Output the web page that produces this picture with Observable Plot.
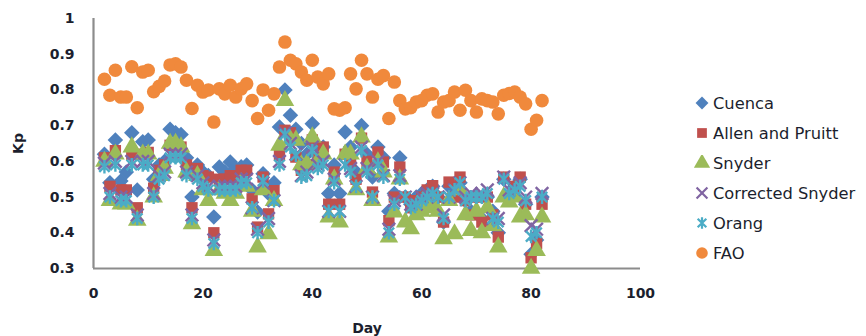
<!DOCTYPE html>
<html>
<head>
<meta charset="utf-8">
<script src="https://cdn.jsdelivr.net/npm/d3@7"></script>
<script src="https://cdn.jsdelivr.net/npm/@observablehq/plot@0.6"></script>
<style>
  html, body { margin: 0; padding: 0; background: #ffffff; }
  #wrap { position: relative; width: 866px; height: 336px; overflow: hidden; }
  #wrap svg.plot text { font-family: "DejaVu Sans", sans-serif; font-weight: bold; }
  #legend { position: absolute; left: 694px; top: 88px; font-family: "DejaVu Sans", sans-serif; font-size: 16.3px; color: #1c1f2e; }
  #legend .row { height: 30px; display: flex; align-items: center; white-space: nowrap; }
  #legend svg { margin-right: 3px; }
</style>
</head>
<body>
<div id="wrap"></div>
<script>
// ---- data ----
const days = [2,3,4,5,6,7,8,9,10,11,12,13,14,15,16,17,18,19,20,21,22,23,24,25,26,27,28,29,30,31,32,33,34,35,36,37,38,39,40,41,42,43,44,45,46,47,48,49,50,51,52,53,54,55,56,57,58,59,60,61,62,63,64,65,66,67,68,69,70,71,72,73,74,75,76,77,78,79,80,81,82];

const cuenca = [0.62,0.54,0.66,0.545,0.57,0.68,0.52,0.655,0.66,0.55,0.59,0.60,0.69,0.68,0.675,0.61,0.50,0.59,0.57,0.56,0.444,0.584,0.57,0.598,0.58,0.585,0.59,0.52,0.458,0.565,0.51,0.54,0.696,0.80,0.729,0.69,0.65,0.62,0.705,0.64,0.64,0.51,0.59,0.51,0.682,0.64,0.57,0.70,0.62,0.556,0.64,0.61,0.46,0.51,0.61,0.50,0.48,0.50,0.51,0.52,0.53,0.50,0.43,0.53,0.51,0.54,0.49,0.46,0.50,0.44,0.50,0.46,0.40,0.55,0.50,0.53,0.55,0.48,0.34,0.38,0.50];

const allenPruitt = [0.61,0.53,0.63,0.52,0.52,0.62,0.47,0.62,0.625,0.525,0.575,0.59,0.645,0.64,0.64,0.59,0.47,0.58,0.56,0.556,0.40,0.55,0.55,0.56,0.55,0.575,0.575,0.495,0.416,0.556,0.453,0.518,0.617,0.687,0.68,0.612,0.575,0.59,0.66,0.61,0.64,0.48,0.57,0.48,0.62,0.60,0.55,0.665,0.60,0.514,0.626,0.598,0.434,0.50,0.584,0.50,0.47,0.49,0.50,0.52,0.532,0.50,0.43,0.542,0.50,0.556,0.49,0.45,0.50,0.43,0.50,0.45,0.388,0.556,0.50,0.53,0.556,0.48,0.33,0.37,0.48];

const snyder = [0.60,0.49,0.62,0.48,0.48,0.64,0.435,0.62,0.62,0.50,0.56,0.58,0.65,0.65,0.64,0.57,0.425,0.56,0.52,0.49,0.35,0.52,0.51,0.49,0.51,0.54,0.53,0.46,0.36,0.52,0.397,0.49,0.645,0.77,0.66,0.659,0.59,0.593,0.668,0.60,0.62,0.444,0.55,0.43,0.62,0.62,0.52,0.668,0.58,0.49,0.598,0.57,0.388,0.458,0.55,0.43,0.411,0.45,0.46,0.47,0.48,0.46,0.383,0.49,0.397,0.52,0.45,0.406,0.46,0.40,0.47,0.42,0.36,0.50,0.486,0.50,0.444,0.45,0.30,0.35,0.444];

const correctedSnyder = [0.595,0.51,0.60,0.50,0.50,0.60,0.45,0.60,0.60,0.51,0.56,0.57,0.62,0.62,0.62,0.57,0.45,0.56,0.54,0.53,0.38,0.53,0.53,0.53,0.53,0.55,0.55,0.47,0.41,0.54,0.44,0.49,0.60,0.68,0.65,0.62,0.56,0.57,0.64,0.59,0.60,0.46,0.55,0.46,0.59,0.58,0.53,0.64,0.58,0.50,0.60,0.56,0.41,0.49,0.56,0.50,0.48,0.48,0.50,0.51,0.51,0.50,0.45,0.50,0.52,0.54,0.50,0.51,0.50,0.51,0.52,0.44,0.44,0.556,0.52,0.52,0.54,0.50,0.42,0.41,0.51];

const orang = [0.585,0.50,0.59,0.49,0.49,0.59,0.44,0.59,0.59,0.50,0.55,0.56,0.61,0.61,0.61,0.56,0.44,0.55,0.53,0.52,0.37,0.52,0.52,0.52,0.52,0.54,0.54,0.47,0.40,0.545,0.43,0.49,0.59,0.675,0.64,0.617,0.556,0.56,0.63,0.58,0.59,0.46,0.54,0.46,0.59,0.57,0.53,0.63,0.57,0.50,0.59,0.556,0.40,0.48,0.55,0.50,0.47,0.48,0.49,0.50,0.51,0.50,0.44,0.50,0.52,0.54,0.49,0.50,0.50,0.50,0.51,0.44,0.43,0.55,0.51,0.52,0.53,0.49,0.39,0.40,0.50];

const fao = [0.83,0.785,0.855,0.78,0.78,0.865,0.75,0.85,0.855,0.795,0.81,0.825,0.87,0.873,0.864,0.827,0.748,0.813,0.794,0.80,0.71,0.803,0.789,0.813,0.78,0.803,0.817,0.77,0.72,0.80,0.743,0.789,0.864,0.934,0.883,0.873,0.85,0.827,0.883,0.836,0.817,0.845,0.747,0.743,0.75,0.845,0.803,0.883,0.845,0.78,0.83,0.84,0.72,0.822,0.77,0.747,0.75,0.766,0.77,0.785,0.789,0.738,0.766,0.77,0.794,0.743,0.799,0.77,0.738,0.775,0.77,0.766,0.733,0.785,0.79,0.794,0.78,0.761,0.69,0.715,0.77];

const seriesNames = ["Cuenca", "Allen and Pruitt", "Snyder", "Corrected Snyder", "Orang", "FAO"];
const xTicks = [0, 20, 40, 60, 80, 100];
const yTicks = [0.3, 0.4, 0.5, 0.6, 0.7, 0.8, 0.9, 1];

// ---- styling ----
const colors = ["#4f81bd", "#c0504d", "#9bbb59", "#8064a2", "#4bacc6", "#f0893c"];
// Excel-like "star" marker: an X with a vertical bar
const excelStar = {
  draw(ctx, size) {
    const r = Math.sqrt(size / Math.PI);
    const a = r * 0.8;
    ctx.moveTo(-a, -a); ctx.lineTo(a, a);
    ctx.moveTo(-a, a); ctx.lineTo(a, -a);
    ctx.moveTo(0, -r * 1.05); ctx.lineTo(0, r * 1.05);
  }
};
const symbols = [d3.symbolDiamond2, d3.symbolSquare, d3.symbolTriangle, d3.symbolTimes, excelStar, d3.symbolCircle];
const filled = [true, true, true, false, false, true];
const radii = [7.0, 6.4, 6.9, 5.8, 6.5, 6.8];

const allSeries = [cuenca, allenPruitt, snyder, correctedSnyder, orang, fao];
const toRows = vals => days.map((d, i) => ({day: d, kp: vals[i]}));

const axisColor = "#8c8c8c";
const textColor = "#1c1f2e";

const marks = [
  Plot.ruleX([xTicks[0]], {y1: yTicks[0], y2: yTicks[yTicks.length - 1], stroke: axisColor, strokeWidth: 2.2}),
  Plot.ruleY([yTicks[0]], {x1: xTicks[0], x2: xTicks[xTicks.length - 1], stroke: axisColor, strokeWidth: 2.2}),
  Plot.axisX({ticks: xTicks, tickSize: 0, tickPadding: 20, fontSize: 14, fill: textColor,
              label: "Day", labelAnchor: "center", labelOffset: 64, labelArrow: "none"}),
  Plot.axisY({ticks: yTicks, tickSize: 0, tickPadding: 19, fontSize: 14, fill: textColor,
              tickFormat: d => (d === 1 ? "1" : d.toFixed(1)),
              label: "Kp", labelAnchor: "center", labelOffset: 80, labelArrow: "none"})
];

allSeries.forEach((vals, i) => {
  const opts = {x: "day", y: "kp", symbol: symbols[i], r: radii[i]};
  if (filled[i]) { opts.fill = colors[i]; opts.stroke = "none"; }
  else { opts.stroke = colors[i]; opts.fill = "none"; opts.strokeWidth = 2.4; }
  marks.push(Plot.dot(toRows(vals), opts));
});

const chart = Plot.plot({
  width: 866,
  height: 336,
  marginLeft: 93,
  marginRight: 226,
  marginTop: 18,
  marginBottom: 68,
  style: {fontFamily: "DejaVu Sans, sans-serif", fontSize: "14px", color: textColor, background: "#fff"},
  x: {domain: [0, 100]},
  y: {domain: [0.3, 1]},
  marks
});
chart.classList.add("plot");
document.getElementById("wrap").appendChild(chart);

// ---- legend (HTML, right side) ----
const legend = d3.select("#wrap").append("div").attr("id", "legend");
seriesNames.forEach((name, i) => {
  const row = legend.append("div").attr("class", "row");
  const svg = row.append("svg").attr("width", 16).attr("height", 16);
  const r = [5.8, 5.5, 6.0, 5.0, 5.4, 5.8][i];
  const p = svg.append("path")
    .attr("transform", "translate(8,8)")
    .attr("d", d3.symbol(symbols[i], r * r * Math.PI)());
  if (filled[i]) p.attr("fill", colors[i]);
  else p.attr("fill", "none").attr("stroke", colors[i]).attr("stroke-width", 2.2);
  row.append("span").text(name);
});
</script>
</body>
</html>
